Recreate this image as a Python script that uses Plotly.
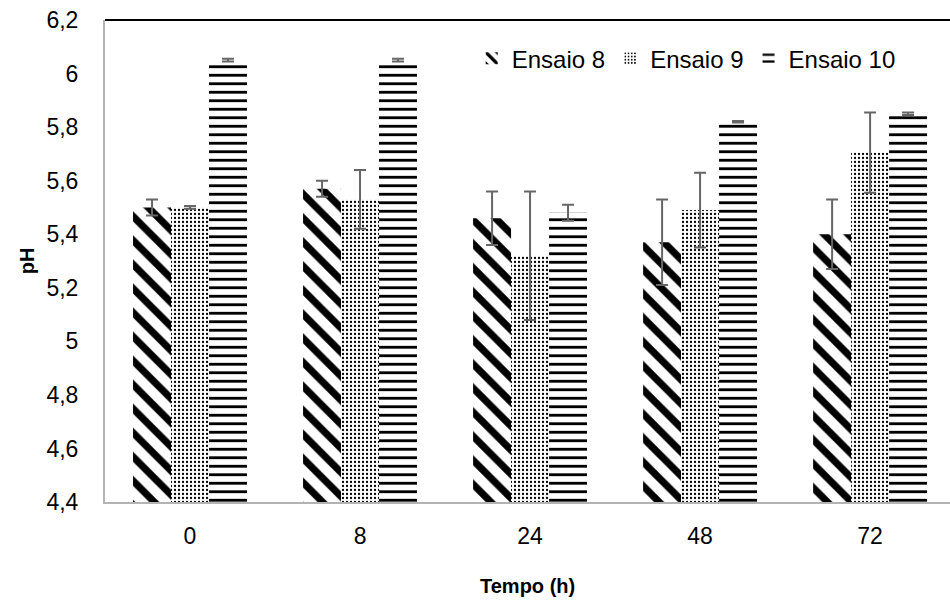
import plotly.graph_objects as go

categories = ["0", "8", "24", "48", "72"]
ensaio8 = [5.50, 5.57, 5.46, 5.37, 5.40]
ensaio8_err = [0.03, 0.03, 0.10, 0.16, 0.13]
ensaio9 = [5.50, 5.53, 5.32, 5.49, 5.705]
ensaio9_err = [0.005, 0.11, 0.24, 0.14, 0.15]
ensaio10 = [6.05, 6.05, 5.48, 5.82, 5.85]
ensaio10_err = [0.005, 0.005, 0.03, 0.003, 0.005]
y_ticks = [4.4, 4.6, 4.8, 5.0, 5.2, 5.4, 5.6, 5.8, 6.0, 6.2]

err_style = dict(type="data", color="#666666", thickness=2, width=6, visible=True)

fig = go.Figure()
fig.add_trace(go.Bar(
    name="Ensaio 8", x=categories, y=ensaio8,
    error_y=dict(array=ensaio8_err, **err_style),
    marker=dict(color="white", line=dict(width=0),
                pattern=dict(shape="\\", fgcolor="black", bgcolor="white", fgopacity=1,
                             fillmode="replace", size=17, solidity=0.42)),
))
fig.add_trace(go.Bar(
    name="Ensaio 9", x=categories, y=ensaio9,
    error_y=dict(array=ensaio9_err, **err_style),
    marker=dict(color="white", line=dict(width=0),
                pattern=dict(shape=".", fgcolor="black", bgcolor="white", fgopacity=1,
                             fillmode="replace", size=4, solidity=0.25)),
))
fig.add_trace(go.Bar(
    name="Ensaio 10", x=categories, y=ensaio10,
    error_y=dict(array=ensaio10_err, **err_style),
    marker=dict(color="white", line=dict(width=0),
                pattern=dict(shape="-", fgcolor="black", bgcolor="white", fgopacity=1,
                             fillmode="replace", size=8.5, solidity=0.33)),
))

font_family = "Liberation Sans, Arial, sans-serif"

fig.update_layout(
    width=950, height=600,
    margin=dict(l=105, r=0, t=20, b=98),
    paper_bgcolor="white", plot_bgcolor="white",
    separators=",.",
    barmode="group", bargap=0.33, bargroupgap=0,
    font=dict(family=font_family, size=23, color="black"),
    showlegend=True,
    legend=dict(orientation="h", x=0.434, y=0.92, xanchor="left", yanchor="middle",
                font=dict(size=24, color="black"), bgcolor="rgba(0,0,0,0)",
                itemwidth=30),
    xaxis=dict(type="category", range=[-0.5, 4.47], showline=True, linecolor="#b3b3b3",
               linewidth=2, ticks="", showgrid=False, zeroline=False,
               tickfont=dict(size=23), ticklabelstandoff=12, fixedrange=True),
    yaxis=dict(range=[4.4, 6.2], tickvals=y_ticks, tickformat=".1~f", showline=True,
               linecolor="#b3b3b3", linewidth=2, ticks="", showgrid=False, zeroline=False,
               tickfont=dict(size=23), ticklabelstandoff=20, fixedrange=True),
    shapes=[dict(type="line", xref="paper", yref="paper", x0=0, x1=1, y0=1, y1=1,
                 line=dict(color="black", width=2))],
    annotations=[
        dict(text="<b>Tempo (h)</b>", xref="paper", yref="paper", x=0.5, y=-0.174,
             xanchor="center", yanchor="middle", showarrow=False,
             font=dict(size=20)),
        dict(text="<b>pH</b>", xref="paper", yref="paper", x=-0.092, y=0.5,
             xanchor="center", yanchor="middle", showarrow=False, textangle=-90,
             font=dict(size=20)),
    ],
)

fig.write_html("out.html")
